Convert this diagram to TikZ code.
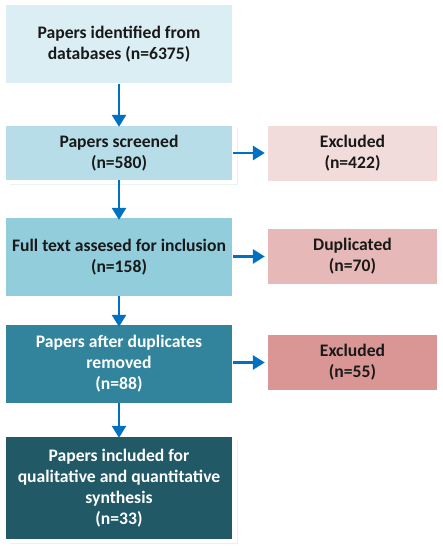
\documentclass[tikz,border=0pt]{standalone}
\usepackage{fontspec}
\setmainfont{Carlito}
\usetikzlibrary{arrows.meta}

\definecolor{stepA}{HTML}{DAEEF3}
\definecolor{stepB}{HTML}{B7DEE8}
\definecolor{stepC}{HTML}{92CDDC}
\definecolor{stepD}{HTML}{31849B}
\definecolor{stepE}{HTML}{215967}
\definecolor{outA}{HTML}{F2DCDB}
\definecolor{outB}{HTML}{E6B9B8}
\definecolor{outC}{HTML}{D99694}
\definecolor{flow}{HTML}{0070C0}
\definecolor{glow}{HTML}{E6F4EF}

\tikzset{
  box/.style={minimum width=226pt, inner sep=0pt, align=center,
    font=\bfseries\fontsize{17.6}{21}\selectfont, text=black!90},
  side/.style={box, minimum width=169pt, minimum height=55pt},
  flowarrow/.style={draw=flow, line width=2.8pt,
    -{Triangle[width=14pt,length=12pt]}}
}

\begin{document}
\begin{tikzpicture}[x=1pt,y=-1pt]
\useasboundingbox (0,0) rectangle (443,550);
% faint shadows
\draw[glow, line width=1pt] (237,128) -- (237,184) -- (10,184);
\draw[glow, line width=1pt] (237,439) -- (237,543) -- (10,543);
% main column
\node[box, fill=stepA, minimum height=78pt] (ident) at (119,44) {Papers identified from\\databases (n=6375)};
\node[box, fill=stepB, minimum height=54pt] (screen) at (119,153) {Papers screened\\(n=580)};
\node[box, fill=stepC, minimum height=78pt] (full) at (119,257) {Full text assesed for inclusion\\(n=158)};
\node[box, fill=stepD, minimum height=78pt, text=white] (after) at (119,364) {Papers after duplicates\\removed\\(n=88)};
\node[box, fill=stepE, minimum height=102pt, text=white] (incl) at (119,488) {Papers included for\\qualitative and quantitative\\synthesis\\(n=33)};
% side column
\node[side, fill=outA] (excl) at (352.5,153) {Excluded\\(n=422)};
\node[side, fill=outB] (dup) at (352.5,256.5) {Duplicated\\(n=70)};
\node[side, fill=outC] (excltwo) at (352.5,362.5) {Excluded\\(n=55)};
% arrows
\draw[flowarrow] (ident.south) ++(0,1) -- ([yshift=-1pt]screen.north);
\draw[flowarrow] (screen.south) -- ([yshift=-2pt]full.north);
\draw[flowarrow] (full.south) -- ([yshift=-2pt]after.north);
\draw[flowarrow] (after.south) -- ([yshift=-1pt]incl.north);
\draw[flowarrow] (screen.east) ++(1,0) -- ([xshift=-3pt]excl.west);
\draw[flowarrow] ([xshift=1pt]full.east |- dup.west) -- ([xshift=-3pt]dup.west);
\draw[flowarrow] ([xshift=1pt]after.east |- excltwo.west) -- ([xshift=-3pt]excltwo.west);
\end{tikzpicture}
\end{document}
